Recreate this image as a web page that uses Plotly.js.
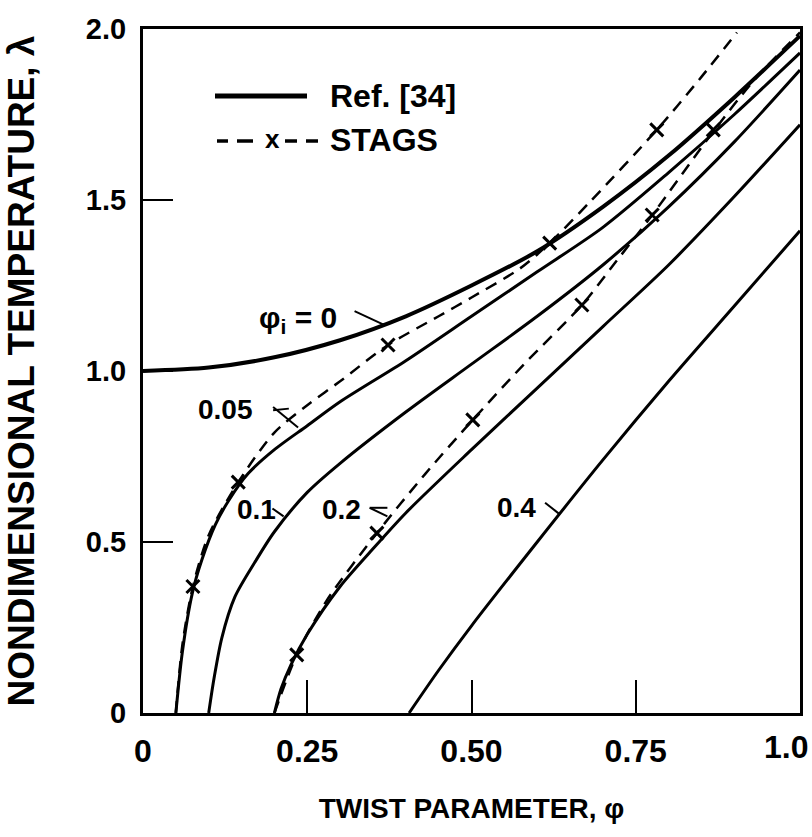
<!DOCTYPE html>
<html>
<head>
<meta charset="utf-8">
<script src="https://cdn.plot.ly/plotly-3.0.1.min.js"></script>
<style>html,body{margin:0;padding:0;background:#fff;}#chart{width:812px;height:837px;}</style>
</head>
<body>
<div id="chart"></div>
<script>
// Ref. [34] solid curves, lambda vs phi, for imperfection phi_i
const phi0_x   = [0, 0.1, 0.2, 0.3, 0.4, 0.5, 0.6, 0.7, 0.8, 0.9, 1.0];
const phi0_y   = [1.00, 1.01, 1.04, 1.09, 1.16, 1.25, 1.35, 1.48, 1.63, 1.80, 1.98];
const phi005_x = [0.05, 0.06, 0.075, 0.09, 0.11, 0.13, 0.16, 0.2, 0.25, 0.3, 0.4, 0.5, 0.6, 0.7, 0.8, 0.9, 1.0];
const phi005_y = [0, 0.18, 0.35, 0.45, 0.55, 0.62, 0.70, 0.77, 0.84, 0.91, 1.03, 1.16, 1.29, 1.42, 1.58, 1.75, 1.93];
const phi01_x  = [0.1, 0.108, 0.12, 0.14, 0.17, 0.2, 0.25, 0.3, 0.4, 0.5, 0.6, 0.7, 0.8, 0.9, 1.0];
const phi01_y  = [0, 0.1, 0.22, 0.34, 0.44, 0.53, 0.645, 0.73, 0.88, 1.02, 1.16, 1.31, 1.48, 1.67, 1.88];
const phi02_x  = [0.2, 0.21, 0.225, 0.25, 0.3, 0.35, 0.4, 0.5, 0.6, 0.7, 0.8, 0.9, 1.0];
const phi02_y  = [0, 0.07, 0.14, 0.23, 0.37, 0.48, 0.585, 0.77, 0.95, 1.13, 1.31, 1.51, 1.72];
const phi04_x  = [0.405, 0.45, 0.5, 0.6, 0.7, 0.8, 0.9, 1.0];
const phi04_y  = [0, 0.125, 0.255, 0.50, 0.74, 0.97, 1.19, 1.41];

// STAGS dashed curves and their x markers
const stags005_x = [0.05, 0.06, 0.076, 0.1, 0.145, 0.2, 0.25, 0.3, 0.373, 0.45, 0.5, 0.574, 0.619, 0.68, 0.782, 0.85, 0.904];
const stags005_y = [0, 0.2, 0.37, 0.52, 0.675, 0.82, 0.90, 0.97, 1.076, 1.16, 1.215, 1.30, 1.374, 1.494, 1.705, 1.86, 1.99];
const stags005_mx = [0.076, 0.145, 0.373, 0.619, 0.782];
const stags005_my = [0.37, 0.675, 1.076, 1.374, 1.705];
const stags02_x = [0.2, 0.234, 0.28, 0.356, 0.43, 0.502, 0.58, 0.668, 0.72, 0.775, 0.868, 0.93, 1.0];
const stags02_y = [0, 0.17, 0.33, 0.526, 0.70, 0.857, 1.02, 1.193, 1.32, 1.456, 1.70, 1.85, 1.99];
const stags02_mx = [0.234, 0.356, 0.502, 0.668, 0.775, 0.868];
const stags02_my = [0.17, 0.526, 0.857, 1.193, 1.456, 1.705];

const xTickVals = [0, 0.25, 0.5, 0.75, 1.0];
const xTickText = ['0', '0.25', '0.50', '0.75', '1.0'];
const yTickVals = [0, 0.5, 1.0, 1.5, 2.0];
const yTickText = ['0', '0.5', '1.0', '1.5', '2.0'];

const curveLabels = ['φ<sub>i</sub> = 0', '0.05', '0.1', '0.2', '0.4'];
const legendNames = ['Ref. [34]', 'STAGS'];

const FONT = 'Liberation Sans, Arial, sans-serif';
const solid = (x, y, w) => ({
  x, y, type: 'scatter', mode: 'lines', showlegend: false,
  line: {color: '#000', width: w, shape: 'spline', smoothing: 0.8}, hoverinfo: 'skip'
});
const dashed = (x, y) => ({
  x, y, type: 'scatter', mode: 'lines', showlegend: false,
  line: {color: '#000', width: 2.5, dash: '12px,8px', shape: 'spline', smoothing: 0.8}, hoverinfo: 'skip'
});
const marks = (x, y) => ({
  x, y, type: 'scatter', mode: 'markers', showlegend: false,
  marker: {symbol: 'x-thin', size: 13, color: '#000', line: {color: '#000', width: 3}}, hoverinfo: 'skip'
});

const traces = [
  solid(phi0_x, phi0_y, 4),
  solid(phi005_x, phi005_y, 3),
  solid(phi01_x, phi01_y, 3),
  solid(phi02_x, phi02_y, 3),
  solid(phi04_x, phi04_y, 3),
  dashed(stags005_x, stags005_y),
  dashed(stags02_x, stags02_y),
  marks(stags005_mx, stags005_my),
  marks(stags02_mx, stags02_my)
];

// pixel helpers for paper-referenced pieces (plot area: x 143..800, y 29..713)
const px = v => (v - 143) / 657;
const py = v => (713 - v) / 684;

const tickFontX = {family: FONT, size: 32, color: '#000', weight: 700};
const labelFont = {family: FONT, size: 28, color: '#000', weight: 700};
const legFont = {family: FONT, size: 32, color: '#000', weight: 700};
const lastIdx = xTickText.length - 1;
const annotations = [
  {x: 0.236, y: 1.15, text: curveLabels[0], font: {family: FONT, size: 30, color: '#000', weight: 700}},
  {x: 0.126, y: 0.886, text: curveLabels[1]},
  {x: 0.172, y: 0.594, text: curveLabels[2]},
  {x: 0.302, y: 0.594, text: curveLabels[3]},
  {x: 0.568, y: 0.60, text: curveLabels[4]}
].map(a => Object.assign({xref: 'x', yref: 'y', showarrow: false, font: labelFont}, a)).concat([
  {xref: 'paper', yref: 'paper', x: px(328), y: py(96), xanchor: 'left', yanchor: 'middle', showarrow: false,
   text: legendNames[0], font: legFont},
  {xref: 'paper', yref: 'paper', x: px(328), y: py(140), xanchor: 'left', yanchor: 'middle', showarrow: false,
   text: legendNames[1], font: legFont},
  {xref: 'paper', yref: 'paper', x: px(272), y: py(139), xanchor: 'center', yanchor: 'middle', showarrow: false,
   text: 'x', font: {family: FONT, size: 26, color: '#000', weight: 700}},
  // last x tick label, kept inside the page
  {xref: 'paper', yref: 'paper', x: px(810), y: py(747), xanchor: 'right', yanchor: 'middle', showarrow: false,
   text: xTickText[lastIdx], font: tickFontX}
]);

const leader = (x0, y0, x1, y1) => ({type: 'line', xref: 'x', yref: 'y', x0, y0, x1, y1,
  line: {color: '#000', width: 2}});
const legSeg = (a, b, y, w) => ({type: 'line', xref: 'paper', yref: 'paper', x0: px(a), x1: px(b), y0: py(y), y1: py(y),
  line: {color: '#000', width: w}});
const shapes = [
  leader(0.322, 1.175, 0.367, 1.135),
  leader(0.198, 0.895, 0.236, 0.835),
  leader(0.198, 0.885, 0.222, 0.890),
  leader(0.197, 0.598, 0.214, 0.575),
  leader(0.345, 0.600, 0.372, 0.575),
  leader(0.345, 0.600, 0.372, 0.600),
  leader(0.612, 0.615, 0.633, 0.583),
  legSeg(215, 307, 96, 5),
  legSeg(217, 228, 141, 3.5),
  legSeg(237, 253, 141, 3.5),
  legSeg(285, 297, 141, 3.5),
  legSeg(306, 318, 141, 3.5)
];

const layout = {
  width: 812, height: 837,
  margin: {l: 143, r: 12, t: 29, b: 124},
  paper_bgcolor: '#fff', plot_bgcolor: '#fff',
  showlegend: false,
  xaxis: {range: [0, 1], tickvals: xTickVals, ticktext: xTickText.slice(0, lastIdx).concat(['']),
          ticks: 'inside', ticklen: 33, tickwidth: 2,
          tickcolor: '#000', showline: true, linewidth: 3, linecolor: '#000', mirror: true, showgrid: false,
          zeroline: false, ticklabelstandoff: 8,
          tickfont: tickFontX,
          title: {text: 'TWIST PARAMETER, φ', standoff: 30, font: {family: FONT, size: 28, color: '#000', weight: 700}}},
  yaxis: {range: [0, 2], tickvals: yTickVals, ticktext: yTickText, ticks: 'inside', ticklen: 30, tickwidth: 2,
          tickcolor: '#000', showline: true, linewidth: 3, linecolor: '#000', mirror: true, showgrid: false,
          zeroline: false, ticklabelstandoff: 8,
          tickfont: {family: FONT, size: 29, color: '#000', weight: 700},
          title: {text: 'NONDIMENSIONAL TEMPERATURE, λ', standoff: 40, font: {family: FONT, size: 37, color: '#000', weight: 700}}},
  annotations, shapes
};

Plotly.newPlot('chart', traces, layout, {staticPlot: true, displayModeBar: false});
</script>
</body>
</html>
